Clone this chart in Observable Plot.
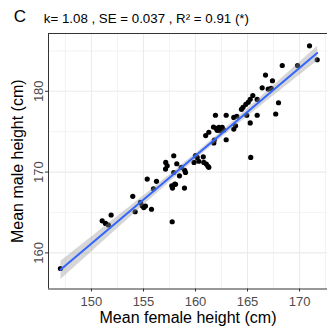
<!DOCTYPE html>
<html>
<head>
<meta charset="utf-8">
<script src="https://cdn.jsdelivr.net/npm/d3@7"></script>
<script src="https://cdn.jsdelivr.net/npm/@observablehq/plot@0.6"></script>
<style>
  html, body { margin: 0; padding: 0; background: #fff; overflow: hidden; }
  #chart { width: 327px; height: 327px; }
</style>
</head>
<body>
<div id="chart"></div>
<script>
// Data
const femaleHeight = [
  170.96, 171.70, 168.34, 169.81, 166.73, 167.40, 166.41, 166.99, 167.28, 165.51,
  165.93, 165.26, 165.07, 164.84, 164.57, 164.42, 167.98, 167.71, 165.93, 164.93,
  163.97, 163.68, 162.95, 161.92, 165.26, 163.85, 163.68, 161.73, 161.97, 162.26,
  162.57, 162.72, 162.09, 162.40, 161.28, 160.98, 162.95, 161.81, 161.76, 165.31,
  160.00, 160.16, 160.75, 159.86, 160.32, 160.80, 161.04, 161.20, 161.28, 157.91,
  157.14, 157.28, 157.12, 158.20, 158.63, 158.96, 159.04, 158.46, 157.91, 158.01,
  157.72, 157.79, 158.08, 158.94, 155.36, 156.25, 155.96, 153.97, 154.71, 154.88,
  155.03, 155.19, 154.20, 155.77, 157.76, 151.89, 151.03, 151.35, 151.63, 147.02
];
const maleHeight = [
  185.63, 183.90, 183.19, 183.19, 182.00, 181.30, 180.43, 180.27, 180.35, 179.48,
  178.99, 179.01, 178.64, 178.39, 178.02, 177.77, 178.58, 177.19, 177.03, 177.03,
  176.91, 176.76, 177.03, 177.03, 176.08, 175.73, 175.32, 175.58, 175.42, 175.52,
  175.52, 175.21, 175.17, 175.11, 174.93, 174.52, 174.00, 173.96, 173.60, 171.81,
  172.05, 171.81, 171.89, 171.19, 171.34, 171.19, 170.99, 170.72, 170.59, 172.02,
  171.19, 170.78, 170.37, 171.03, 170.57, 170.22, 169.95, 169.54, 169.95, 168.51,
  168.30, 168.02, 168.49, 168.02, 169.13, 168.86, 167.93, 167.00, 166.24, 165.83,
  165.61, 165.79, 165.09, 165.40, 163.85, 164.69, 163.97, 163.64, 163.45, 158.07
];
const xTicks = [150, 155, 160, 165, 170];
const xMinor = [147.5, 152.5, 157.5, 162.5, 167.5, 172.5];
const yTicks = [160, 170, 180];
const yMinor = [165, 175, 185];
const panelLetter = "C";
const statsText = "k= 1.08 , SE = 0.037 , R² = 0.91 (*)";
const xLabel = "Mean female height (cm)";
const yLabel = "Mean male height (cm)";

const points = femaleHeight.map((f, i) => ({female: f, male: maleHeight[i]}));
const xDomain = [145.87, 172.69];
const yDomain = [155.53, 187.15];

const chart = Plot.plot({
  width: 327,
  height: 327,
  marginLeft: 48,
  marginTop: 33,
  marginRight: 0,
  marginBottom: 38.5,
  style: {fontFamily: "'Liberation Sans', Arial, sans-serif", fontSize: "13px", background: "#fff"},
  x: {domain: xDomain, label: null},
  y: {domain: yDomain, label: null},
  marks: [
    Plot.gridX({ticks: xMinor, stroke: "#EBEBEB", strokeOpacity: 1, strokeWidth: 0.6}),
    Plot.gridY({ticks: yMinor, stroke: "#EBEBEB", strokeOpacity: 1, strokeWidth: 0.6}),
    Plot.gridX({ticks: xTicks, stroke: "#EBEBEB", strokeOpacity: 1, strokeWidth: 1.1}),
    Plot.gridY({ticks: yTicks, stroke: "#EBEBEB", strokeOpacity: 1, strokeWidth: 1.1}),
    Plot.dot(points, {x: "female", y: "male", r: 2.6, fill: "black", stroke: "none"}),
    Plot.linearRegressionY(points, {x: "female", y: "male", stroke: "#3366FF", strokeWidth: 2, fill: "#999999", fillOpacity: 0.4, ci: 0.95}),
    Plot.ruleX([xDomain[0]], {stroke: "#333", strokeWidth: 1}),
    Plot.ruleY([yDomain[0], yDomain[1]], {stroke: "#333", strokeWidth: 1}),
    Plot.axisX({ticks: xTicks, tickSize: 3, tickPadding: 5, fontSize: 13, stroke: "#333", fill: "#4d4d4d", label: null}),
    Plot.axisY({ticks: yTicks, tickSize: 3, tickFormat: () => "", stroke: "#333", label: null}),
    Plot.text(yTicks, {y: d => d, text: d => String(d), frameAnchor: "left", rotate: -90, dx: -5.5, lineAnchor: "bottom", textAnchor: "middle", fontSize: 13, fill: "#4d4d4d"}),
    Plot.text([panelLetter], {text: d => d, frameAnchor: "top-left", dx: -34.7, dy: -11.3, lineAnchor: "bottom", textAnchor: "start", fontSize: 17, fill: "black"}),
    Plot.text([statsText], {text: d => d, frameAnchor: "top-left", dx: -4.7, dy: -10.3, lineAnchor: "bottom", textAnchor: "start", fontSize: 13.3, fill: "black"}),
    Plot.text([xLabel], {text: d => d, frameAnchor: "bottom", dy: 34.2, lineAnchor: "bottom", textAnchor: "middle", fontSize: 16, fill: "black"}),
    Plot.text([yLabel], {text: d => d, frameAnchor: "left", dx: -26, rotate: -90, lineAnchor: "bottom", textAnchor: "middle", fontSize: 16, fill: "black"})
  ]
});
document.getElementById("chart").appendChild(chart);
</script>
</body>
</html>
